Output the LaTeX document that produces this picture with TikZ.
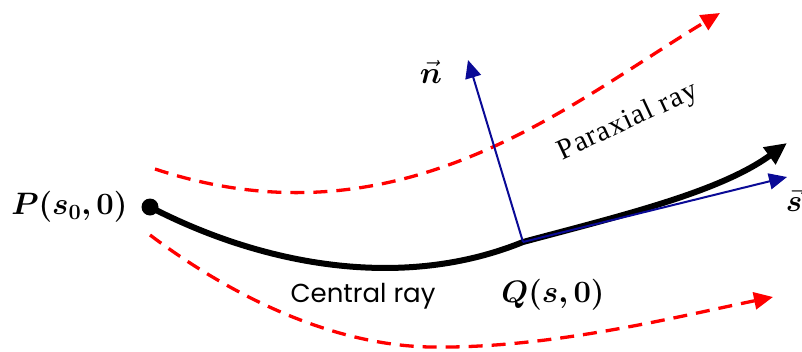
\RequirePackage{fix-cm}
\documentclass[tikz,border=0pt]{standalone}
\usepackage{amsmath,amssymb,bm}
\usepackage{fontspec}
\usepackage{tikz}
\usetikzlibrary{arrows.meta}
\newfontfamily\paraxialfont[LetterSpace=4]{Liberation Serif}
\newfontfamily\centralfont{Poppins}
\definecolor{vecblue}{RGB}{10,10,150}

\begin{document}
\begin{tikzpicture}[x=1pt, y=-1pt, every node/.style={font=\fontsize{31}{37}\selectfont},
	central/.style={line width=6pt, -{Triangle[length=22pt, width=20pt]}},
	paraxial/.style={red, line width=3.3pt, dash pattern=on 14pt off 9pt, -{Triangle[length=19pt, width=17pt]}},
	unitvec/.style={vecblue, line width=2pt, -{Triangle[length=18pt, width=16pt]}}]
	\useasboundingbox (0,0) rectangle (802,351);
	\node[circle, fill, inner sep=0pt, minimum size=17pt] (P) at (150,207) {};
	\coordinate (Q) at (523,242);
	\coordinate (centralend) at (787,143);
	\coordinate (nend) at (468,60);
	\coordinate (send) at (787,177);
	\coordinate (upstart) at (155,169);
	\coordinate (upend) at (720,13);
	\coordinate (lowstart) at (150,235);
	\coordinate (lowmid) at (430,347);
	\coordinate (lowend) at (773,297);
	\draw[paraxial] (upstart) .. controls (400,250) and (570,103) .. (upend);
	\draw[paraxial] (lowstart) .. controls (230,295) and (330,345) .. (lowmid) .. controls (550,349) and (680,316) .. (lowend);
	\draw[central] (P.center) .. controls (260,264) and (400,292) .. (Q) .. controls (620,216) and (720,192) .. (centralend);
	\draw[unitvec] (Q) -- (nend);
	\draw[unitvec] (Q) -- (send);
	\node[anchor=east] (Plabel) at (131,207) {$\bm{P(s_0,0)}$};
	\node (Qlabel) at (553,295) {$\bm{Q(s,0)}$};
	\node (nlabel) at (431,72) {$\vec{\bm{n}}$};
	\node (slabel) at (794,200) {$\vec{\bm{s}}$};
	\node[font=\fontsize{26}{32}\selectfont\centralfont] (centrallabel) at (363,296) {Central ray};
	\node[font=\fontsize{29}{35}\selectfont\paraxialfont, rotate=25] (paraxiallabel) at (628,122) {Paraxial ray};
\end{tikzpicture}
\end{document}
